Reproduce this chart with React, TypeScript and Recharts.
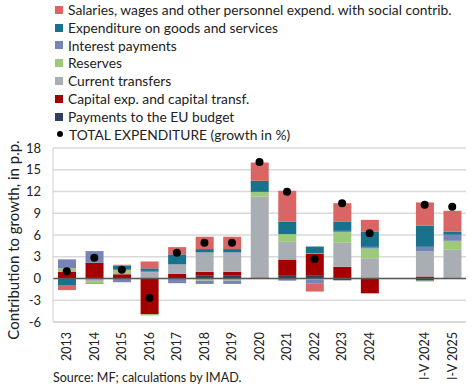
import React from "react";
import {
  Bar,
  CartesianGrid,
  ComposedChart,
  Line,
  ReferenceLine,
  XAxis,
  YAxis,
} from "recharts";

const CATEGORIES = [
  "2013", "2014", "2015", "2016", "2017", "2018", "2019", "2020",
  "2021", "2022", "2023", "2024", "", "I-V 2024", "I-V 2025",
];

// contributions to growth, p.p.
const SALARIES = [-0.7, -0.1, 0.15, 0.95, 1.0, 1.7, 1.7, 2.52, 4.28, -1.15, 2.58, 1.66, null, 3.22, 2.9];
const GOODS = [-0.9, 0, 0.55, 0.35, 1.38, 0.46, 0.46, 1.52, 1.7, 0.92, 1.24, 2.07, null, 2.9, 0.41];
const INTEREST = [1.24, 1.6, -0.5, 0.2, -0.5, -0.45, -0.45, 0, -0.3, -0.45, 0.18, 0.23, null, 0.64, 0.83];
const RESERVES = [0.46, -0.3, 0.46, -0.2, 0, -0.3, -0.3, 0.64, 1.06, 0.05, 1.47, 1.33, null, -0.12, 1.24];
const CURRENT = [0, -0.35, 0.15, 0.85, 1.3, 2.67, 2.67, 11.17, 2.44, -0.2, 3.31, 2.8, null, 3.45, 3.96];
const CAPITAL = [0.94, 2.18, 0.6, -4.9, 0.65, 0.55, 0.55, 0.14, 2.25, 3.07, 1.61, -2.05, null, 0.28, 0];
const EU_BUDGET = [0, 0, 0, 0, -0.15, 0.38, 0.38, 0, 0.37, 0.37, -0.25, 0, null, -0.3, 0];
const TOTAL = [1.0, 2.87, 1.2, -2.7, 3.56, 4.94, 4.94, 16.07, 11.97, 2.69, 10.37, 6.23, null, 10.18, 9.9];

const Y_TICKS = [-6, -3, 0, 3, 6, 9, 12, 15, 18];

const FONT = "Lato, 'Liberation Sans', Arial, sans-serif";

// stacking order bottom -> top (legend shows it reversed)
const SERIES = [
  { key: "eu", name: "Payments to the EU budget", color: "#333f5c", values: EU_BUDGET },
  { key: "capital", name: "Capital exp. and capital transf.", color: "#a50000", values: CAPITAL },
  { key: "current", name: "Current transfers", color: "#a9aeb4", values: CURRENT },
  { key: "reserves", name: "Reserves", color: "#9cc97a", values: RESERVES },
  { key: "interest", name: "Interest payments", color: "#7784b8", values: INTEREST },
  { key: "goods", name: "Expenditure on goods and services", color: "#18728b", values: GOODS },
  { key: "salaries", name: "Salaries, wages and other personnel expend. with social contrib.", color: "#d96565", values: SALARIES },
];

const data = CATEGORIES.map((cat, i) => {
  const row: Record<string, string | number | null> = { cat, total: TOTAL[i] };
  SERIES.forEach((s) => (row[s.key] = s.values[i]));
  return row;
});

function XTick({ x, y, payload }: any) {
  return (
    <text
      x={x}
      y={y}
      transform={`rotate(-90 ${x} ${y})`}
      textAnchor="end"
      dy="0.35em"
      fill="#222"
      fontSize={12.5}
      fontFamily={FONT}
    >
      {payload.value}
    </text>
  );
}

function TotalDot(props: any) {
  const { cx, cy, payload, index } = props;
  if (payload?.total == null) return <g key={`d${index}`} />;
  return <circle key={`d${index}`} cx={cx} cy={cy} r={4} fill="#000" />;
}

function Legend() {
  const items = [...SERIES].reverse();
  return (
    <div
      style={{
        position: "absolute",
        left: 55,
        top: 1,
        fontFamily: FONT,
        fontSize: 13.8,
        color: "#222",
        lineHeight: "17.8px",
      }}
    >
      {items.map((s) => (
        <div key={s.key} style={{ display: "flex", alignItems: "center", whiteSpace: "nowrap" }}>
          <span style={{ width: 8, height: 8, background: s.color, marginRight: 5, display: "inline-block" }} />
          {s.name}
        </div>
      ))}
      <div style={{ display: "flex", alignItems: "center", whiteSpace: "nowrap" }}>
        <span style={{ width: 6, height: 6, borderRadius: 3, background: "#000", margin: "0 6px 0 2px", display: "inline-block" }} />
        TOTAL EXPENDITURE (growth in %)
      </div>
    </div>
  );
}

export default function App() {
  return (
    <div style={{ position: "absolute", left: 0, top: 0, width: 475, height: 388, background: "#fff" }}>
      <ComposedChart
        width={475}
        height={388}
        data={data}
        stackOffset="sign"
        barSize={18}
        margin={{ top: 148, right: 9, bottom: 6, left: 0 }}
      >
        <CartesianGrid vertical={false} stroke="#d9d9d9" strokeWidth={1.3} />
        <XAxis
          dataKey="cat"
          height={60}
          interval={0}
          tickLine={false}
          axisLine={{ stroke: "#d0d0d0" }}
          tick={<XTick />}
          tickMargin={4}
        />
        <YAxis
          width={53}
          domain={[-6, 18]}
          ticks={Y_TICKS}
          interval={0}
          tickLine={false}
          axisLine={{ stroke: "#d0d0d0" }}
          tick={{ fill: "#222", fontSize: 13, fontFamily: FONT }}
          tickMargin={6}
        />
        <YAxis yAxisId="r" orientation="right" width={0} tick={false} tickLine={false} axisLine={{ stroke: "#d0d0d0" }} />
        {SERIES.map((s) => (
          <Bar key={s.key} dataKey={s.key} stackId="a" fill={s.color} isAnimationActive={false} />
        ))}
        <ReferenceLine y={0} stroke="#595959" strokeWidth={1.5} />
        <Line
          dataKey="total"
          stroke="none"
          dot={<TotalDot />}
          activeDot={false}
          isAnimationActive={false}
        />
      </ComposedChart>
      <Legend />
      <div
        style={{
          position: "absolute",
          left: 13,
          top: 240,
          transform: "translate(-50%, -50%) rotate(-90deg)",
          whiteSpace: "nowrap",
          fontFamily: FONT,
          fontSize: 15,
          color: "#222",
        }}
      >
        Contribution to growth, in p.p.
      </div>
      <div
        style={{
          position: "absolute",
          left: 53,
          top: 370,
          fontFamily: FONT,
          fontSize: 12.5,
          color: "#222",
          whiteSpace: "nowrap",
        }}
      >
        Source: MF; calculations by IMAD.
      </div>
    </div>
  );
}
